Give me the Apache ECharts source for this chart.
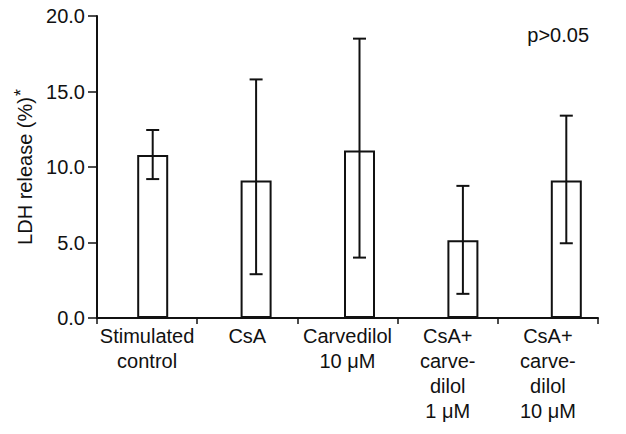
<!DOCTYPE html>
<html>
<head>
<meta charset="utf-8">
<script src="https://cdn.jsdelivr.net/npm/echarts@6/dist/echarts.min.js"></script>
<style>
  html, body { margin: 0; padding: 0; background: #fff; }
  #main { width: 626px; height: 434px; }
</style>
</head>
<body>
<div id="main"></div>
<script>
  // values
  var groups = ['Stimulated\ncontrol', 'CsA', 'Carvedilol\n10 \u03bcM', 'CsA+\ncarve-\ndilol\n1 \u03bcM', 'CsA+\ncarve-\ndilol\n10 \u03bcM'];
  var ldhMean = [10.8, 9.1, 11.1, 5.15, 9.1];
  var errLow = [9.2, 2.9, 4.0, 1.6, 4.95];
  var errHigh = [12.45, 15.8, 18.5, 8.75, 13.4];
  var yTicks = [0, 5, 10, 15, 20];

  var font = 'Liberation Sans, Arial, Helvetica, sans-serif';
  var ink = '#111';

  var chart = echarts.init(document.getElementById('main'), null, { renderer: 'svg' });

  var errData = [];
  for (var i = 0; i < groups.length; i++) {
    errData.push([i, errLow[i], errHigh[i]]);
  }

  var option = {
    animation: false,
    backgroundColor: '#fff',
    title: {
      text: 'p>0.05',
      right: 32,
      top: 20,
      textStyle: { fontFamily: font, fontSize: 20, fontWeight: 'normal', color: ink }
    },
    grid: [
      { left: 97, right: 28, top: 16, bottom: 116 },
      { left: 101, right: 8, top: 16, bottom: 116 }
    ],
    xAxis: [{
      type: 'category',
      gridIndex: 0,
      data: groups,
      axisLine: { lineStyle: { color: ink, width: 2 } },
      axisTick: { show: true, length: 6, lineStyle: { color: ink, width: 1.5 } },
      axisLabel: {
        margin: 5,
        interval: 0,
        color: ink,
        fontFamily: font,
        fontSize: 20,
        lineHeight: 25
      }
    }, {
      type: 'category',
      gridIndex: 1,
      data: groups,
      show: false
    }],
    yAxis: [{
      type: 'value',
      gridIndex: 0,
      min: 0,
      max: yTicks[yTicks.length - 1],
      interval: 5,
      name: '{n|LDH release (%)}{s|*}',
      nameLocation: 'middle',
      nameGap: 58,
      nameTextStyle: {
        rich: {
          n: { fontFamily: font, fontSize: 20, color: ink },
          s: { fontFamily: font, fontSize: 18, color: ink, verticalAlign: 'top', padding: [0, 0, 8, 1] }
        }
      },
      axisLine: { show: true, lineStyle: { color: ink, width: 2 } },
      axisTick: { show: true, length: 9, lineStyle: { color: ink, width: 1.5 } },
      splitLine: { show: false },
      axisLabel: {
        margin: 12,
        color: ink,
        fontFamily: font,
        fontSize: 20,
        formatter: function (v) { return v.toFixed(1); }
      }
    }, {
      type: 'value',
      gridIndex: 1,
      min: 0,
      max: yTicks[yTicks.length - 1],
      show: false
    }],
    series: [{
      type: 'bar',
      xAxisIndex: 1,
      yAxisIndex: 1,
      data: ldhMean,
      barWidth: 31,
      itemStyle: { color: '#fff', borderColor: ink, borderWidth: 2 },
      z: 2
    }, {
      type: 'custom',
      xAxisIndex: 1,
      yAxisIndex: 1,
      data: errData,
      z: 3,
      renderItem: function (params, api) {
        var x = api.value(0);
        var lo = api.coord([x, api.value(1)]);
        var hi = api.coord([x, api.value(2)]);
        var cap = 6.5;
        var st = { stroke: ink, lineWidth: 2 };
        return {
          type: 'group',
          children: [
            { type: 'line', shape: { x1: hi[0], y1: hi[1], x2: lo[0], y2: lo[1] }, style: st },
            { type: 'line', shape: { x1: hi[0] - cap, y1: hi[1], x2: hi[0] + cap, y2: hi[1] }, style: st },
            { type: 'line', shape: { x1: lo[0] - cap, y1: lo[1], x2: lo[0] + cap, y2: lo[1] }, style: st }
          ]
        };
      }
    }]
  };

  chart.setOption(option);
</script>
</body>
</html>
